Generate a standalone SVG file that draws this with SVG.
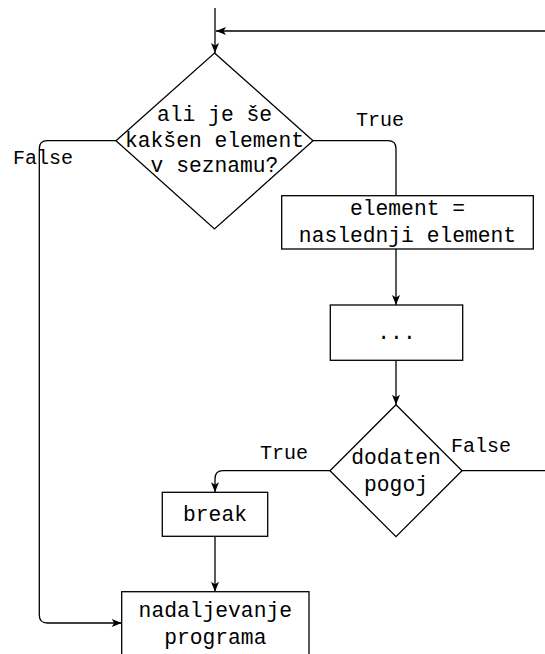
<svg xmlns="http://www.w3.org/2000/svg" width="545" height="654" viewBox="0 0 545 654">
<defs>
<style>
.n{fill:#fff;stroke:#000;stroke-width:1.3}
.t{font-family:"Liberation Mono","Courier New",monospace;font-size:21.3px;fill:#000;text-anchor:middle}
.l{font-family:"Liberation Mono","Courier New",monospace;font-size:20px;fill:#000}
.c{fill:none;stroke:#000;stroke-width:1.3}
</style>
<marker id="a" markerWidth="12" markerHeight="10" viewBox="0 0 12 10" refX="11" refY="5" orient="auto" markerUnits="userSpaceOnUse"><path d="M1,1 L11,5 L1,9 L3.5,5 Z" fill="#000"/></marker>
</defs>
<rect width="545" height="654" fill="#fff"/>
<g id="connectors">
<path class="c" d="M215,8 V53" marker-end="url(#a)"/>
<path class="c" d="M545,31 H216" marker-end="url(#a)"/>
<path class="c" d="M313,140.7 H388 Q396,140.7 396,148.7 V195.7"/>
<path class="c" d="M396,249 V305" marker-end="url(#a)"/>
<path class="c" d="M396,360.3 V404.7" marker-end="url(#a)"/>
<path class="c" d="M330,470.7 H223 Q215,470.7 215,478.7 V492.3" marker-end="url(#a)"/>
<path class="c" d="M462,470.7 H545"/>
<path class="c" d="M215,536.3 V591.7" marker-end="url(#a)"/>
<path class="c" d="M116,140.7 H47.3 Q39.3,140.7 39.3,148.7 V615 Q39.3,623 47.3,623 H121.7" marker-end="url(#a)"/>
<text class="l" x="356" y="126">True</text>
<text class="l" x="13" y="164">False</text>
<text class="l" x="260" y="459">True</text>
<text class="l" x="451" y="452">False</text>
</g>
<g id="cond1">
<path class="n" d="M214.5,53 L313,140.7 L214.5,229 L116,140.7 Z"/>
<text class="t" x="214.5" y="121">ali je še</text>
<text class="t" x="214.5" y="146.7">kakšen element</text>
<text class="t" x="214.5" y="172">v seznamu?</text>
</g>
<g id="assign">
<rect class="n" x="281.7" y="195.7" width="251.6" height="53.3"/>
<text class="t" x="407.5" y="215">element =</text>
<text class="t" x="407.5" y="241.7">naslednji element</text>
</g>
<g id="dots">
<rect class="n" x="330.3" y="305" width="132.4" height="55.3"/>
<text class="t" x="396.5" y="339">...</text>
</g>
<g id="cond2">
<path class="n" d="M396,404.7 L462,470.7 L396,536.7 L330,470.7 Z"/>
<text class="t" x="396" y="464">dodaten</text>
<text class="t" x="396" y="491">pogoj</text>
</g>
<g id="break">
<rect class="n" x="162.3" y="492.3" width="105.4" height="44"/>
<text class="t" x="215" y="521">break</text>
</g>
<g id="continue">
<rect class="n" x="121.7" y="591.7" width="187.3" height="80"/>
<text class="t" x="215.3" y="617.3">nadaljevanje</text>
<text class="t" x="215.3" y="644">programa</text>
</g>
</svg>
